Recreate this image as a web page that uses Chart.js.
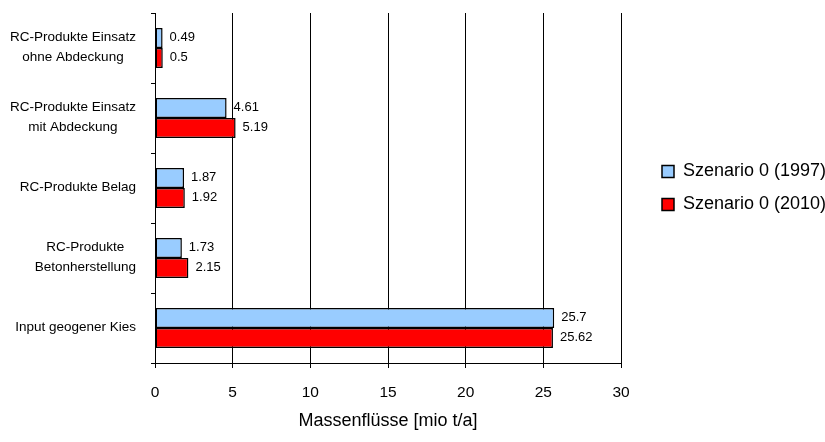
<!DOCTYPE html>
<html>
<head>
<meta charset="utf-8">
<script src="https://cdn.jsdelivr.net/npm/chart.js@4/dist/chart.umd.min.js"></script>
<style>
  html, body { margin: 0; padding: 0; background: #fff; }
  canvas { display: block; }
</style>
</head>
<body>
<canvas id="c" width="825" height="442"></canvas>
<script>
// Categories (top to bottom) and the two scenario series
const categories = [
  ["RC-Produkte Einsatz", "ohne Abdeckung"],
  ["RC-Produkte Einsatz", "mit Abdeckung"],
  "RC-Produkte Belag",
  ["RC-Produkte", "Betonherstellung"],
  "Input geogener Kies"
];
const seriesNames = ["Szenario 0 (1997)", "Szenario 0 (2010)"];
const values1997 = [0.49, 4.61, 1.87, 1.73, 25.7];
const values2010 = [0.5, 5.19, 1.92, 2.15, 25.62];
const xTickValues = [0, 5, 10, 15, 20, 25, 30];
const axisTitle = "Massenflüsse [mio t/a]";

const FONT = "'Liberation Sans', Arial, Helvetica, sans-serif";
Chart.defaults.font.family = FONT;
Chart.defaults.color = '#000';

// Category labels: each block right-aligned next to the axis, lines centred within the block
const categoryLabels = {
  id: 'categoryLabels',
  afterDraw(chart) {
    const scale = chart.scales.y;
    const ctx = chart.ctx;
    ctx.save();
    ctx.font = '13.5px ' + FONT;
    ctx.fillStyle = '#000';
    ctx.textAlign = 'center';
    ctx.textBaseline = 'middle';
    const rightEdge = scale.right - 19;
    const lineH = 20;
    chart.data.labels.forEach((lab, i) => {
      const lines = Array.isArray(lab) ? lab : [lab];
      const w = Math.max(...lines.map(l => ctx.measureText(l).width));
      const cx = rightEdge - w / 2;
      const cy = scale.getPixelForTick(i) - 1;
      lines.forEach((l, j) => {
        ctx.fillText(l, cx, cy + (j - (lines.length - 1) / 2) * lineH);
      });
    });
    ctx.restore();
  }
};

// Value labels just beyond the end of each bar
const valueLabels = {
  id: 'valueLabels',
  afterDatasetsDraw(chart) {
    const ctx = chart.ctx;
    ctx.save();
    ctx.font = '13px ' + FONT;
    ctx.fillStyle = '#000';
    ctx.textAlign = 'left';
    ctx.textBaseline = 'middle';
    chart.data.datasets.forEach((ds, di) => {
      const meta = chart.getDatasetMeta(di);
      meta.data.forEach((bar, i) => {
        ctx.fillText(String(ds.data[i]), bar.x + 7, bar.y - 1);
      });
    });
    ctx.restore();
  }
};

// Place the legend a little away from the plot's right edge, running to the canvas edge
const legendOffset = {
  id: 'legendOffset',
  afterLayout(chart) {
    const lg = chart.legend;
    if (lg) {
      const pad = lg.options.labels.padding;
      lg.left = 662 - pad;
      lg.right = chart.width;
      lg.width = lg.right - lg.left;
    }
  }
};

new Chart(document.getElementById('c'), {
  type: 'bar',
  data: {
    labels: categories,
    datasets: [
      {
        label: seriesNames[0],
        data: values1997,
        backgroundColor: '#99CCFF',
        borderColor: '#000',
        borderWidth: 1.5,
        borderSkipped: false
      },
      {
        label: seriesNames[1],
        data: values2010,
        backgroundColor: '#FF0000',
        borderColor: '#000',
        borderWidth: 1.5,
        borderSkipped: false
      }
    ]
  },
  options: {
    indexAxis: 'y',
    responsive: false,
    animation: false,
    devicePixelRatio: 1,
    layout: { padding: { top: 13, left: 0, right: 0, bottom: 0 } },
    datasets: {
      bar: { categoryPercentage: 0.57, barPercentage: 1.0 }
    },
    scales: {
      x: {
        min: xTickValues[0],
        max: xTickValues[xTickValues.length - 1],
        afterBuildTicks(scale) {
          scale.ticks = xTickValues.map(v => ({ value: v }));
        },
        afterFit(scale) {
          scale.height = 79;
          scale.paddingRight = 204;
        },
        grid: {
          color: '#000',
          lineWidth: 1,
          drawTicks: true,
          tickLength: 5,
          tickColor: '#000'
        },
        border: { display: true, color: '#000', width: 1 },
        ticks: {
          font: { size: 15.5 },
          color: '#000',
          padding: 15,
          maxRotation: 0
        },
        title: {
          display: true,
          text: axisTitle,
          font: { size: 18 },
          color: '#000',
          padding: { top: 0, bottom: 10 }
        }
      },
      y: {
        afterFit(scale) {
          scale.width = 155;
        },
        grid: {
          display: true,
          drawOnChartArea: false,
          drawTicks: true,
          tickLength: 4,
          color: '#000',
          tickColor: '#000',
          offset: true
        },
        border: { display: true, color: '#000', width: 1 },
        ticks: { display: false }
      }
    },
    plugins: {
      legend: {
        position: 'right',
        fullSize: false,
        align: 'center',
        labels: {
          boxWidth: 12,
          boxHeight: 12,
          padding: 15,
          color: '#000',
          font: { size: 18 }
        }
      },
      tooltip: { enabled: false }
    }
  },
  plugins: [categoryLabels, valueLabels, legendOffset]
});
</script>
</body>
</html>
